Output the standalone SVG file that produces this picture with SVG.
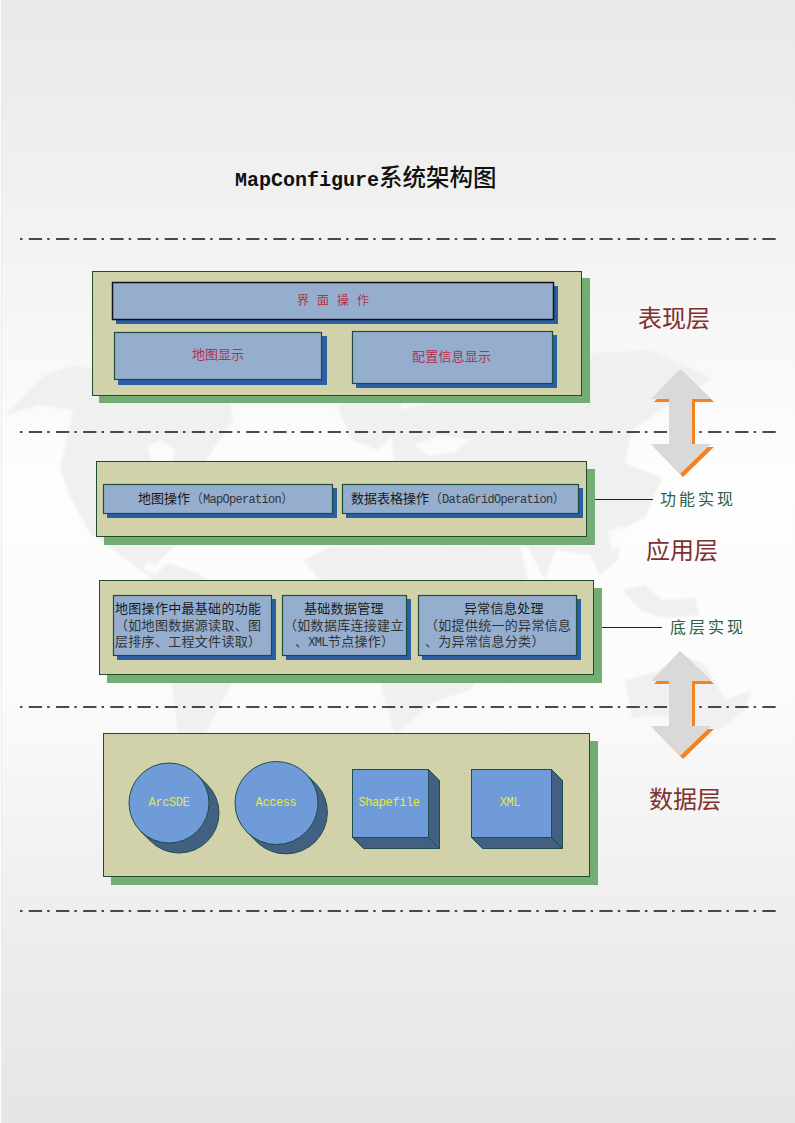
<svg xmlns="http://www.w3.org/2000/svg" width="795" height="1123" viewBox="0 0 795 1123">
<defs>
<linearGradient id="bg" x1="0" y1="0" x2="0" y2="1">
<stop offset="0" stop-color="#e9e9e9"/><stop offset=".2" stop-color="#f2f2f2"/><stop offset=".42" stop-color="#fdfdfd"/><stop offset=".6" stop-color="#fcfcfc"/><stop offset=".8" stop-color="#efefef"/><stop offset="1" stop-color="#e5e5e5"/>
</linearGradient>
<filter id="soft" x="-5%" y="-5%" width="110%" height="110%"><feGaussianBlur stdDeviation="1"/></filter>
<g id="updown">
<path class="ao" d="M683 372L714 402H695V447H714L683 477L654 447H672V402H654Z"/>
<path class="ag" d="M680 369L711 399H692V444H711L680 474L651 444H669V399H651Z"/>
</g>
</defs>
<style>
.div{fill:none;stroke:#111;stroke-width:1.5;stroke-dasharray:2.5 6.3 13.3 5.07}
.shadow{fill:#74ad74}
.panel{fill:#d2d2aa;stroke:#1e4d2b;stroke-width:1}
.bs{fill:#2a5ea5}
.box{fill:#96aece;stroke:#1e4d3b;stroke-width:1.2}
.ag{fill:#d9d9d9}.ao{fill:#f58220}
.lead{stroke:#222;stroke-width:1;fill:none}
.side{fill:#426082;stroke:#1e4d4b;stroke-width:1}
.face{fill:#6f9bd8;stroke:#1e4d4b;stroke-width:1}
.map{fill:#f0f0f0}
.sea{fill:#fbfbfb}
text{font-family:"Liberation Mono","Noto Sans CJK SC",monospace;font-size:13px}
.cn{font-family:"Noto Sans CJK SC",sans-serif}
.lat{font-size:12px;letter-spacing:-.7px;fill:#333}
.dk{fill:#1a1a1a}
.red{fill:#b5304a}
.lay{font-family:"Noto Sans CJK SC",sans-serif;font-size:24px;fill:#7f3030}
.imp{font-family:"Noto Sans CJK SC",sans-serif;font-size:16px;letter-spacing:3px;fill:#2f5f45}
.t3{letter-spacing:.3px;fill:#333}
.y{fill:#e6ea3c;font-size:12px;letter-spacing:-.4px;text-anchor:middle}
</style>
<rect width="795" height="1123" fill="url(#bg)"/>
<rect x="1" width="1" height="1123" fill="#ececec"/>
<rect width="1" height="1123" fill="#fbfbfb"/>
<g id="map" filter="url(#soft)">
<path class="map" d="M5 415L25 395L45 375L75 365L100 372L230 398L233 420L207 458L192 530L160 560L152 578L140 570L117 553L90 533L70 497L60 467L67 440L73 410L40 405Z"/>
<path class="map" d="M150 580L167 563L197 573L240 600L262 630L232 683L205 735L178 733L172 683L150 620Z"/>
<path class="map" d="M337 405L370 395L402 400L400 430L378 450L352 440Z"/>
<path class="map" d="M303 560L330 547L520 545L530 590L505 640L470 690L431 703L395 735L382 690L372 620L330 592Z"/>
<path class="map" d="M400 410L450 398L520 397L560 375L592 353L650 350L712 378L690 395L660 410L632 430L625 463L662 478L645 517L620 530L618 560L600 575L590 555L555 550L545 580L528 548L500 530L470 525L445 548L410 520L395 480L392 440Z"/>
<path class="map" d="M622 590L645 585L662 600L695 598L700 615L665 618L640 610Z"/>
<path class="map" d="M625 680L655 672L688 657L705 665L725 700L752 690L745 710L720 730L680 725L660 715L632 718Z"/>
<path class="sea" d="M147 447L160 440L175 450L172 465L152 462Z"/>
<path class="sea" d="M415 445L440 435L470 440L455 452L428 456Z"/>
<path class="sea" d="M148 562L160 566L152 574L142 568Z"/>
<path class="sea" d="M608 532L620 525L622 545L612 552Z"/>
</g>
<g id="connectors">
<path class="div" d="M20 239H776"/><path class="div" d="M20 432H776"/><path class="div" d="M20 707H776"/><path class="div" d="M20 911H776"/>
<path class="lead" d="M595 499.500H653"/><path class="lead" d="M602 627.500H662"/>
</g>
<use id="arrow-top" href="#updown"/>
<use id="arrow-bottom" href="#updown" y="282"/>
<text id="title" x="235" y="186" style="font-size:20px;font-weight:700" fill="#111"><tspan style="font-family:'Liberation Mono'">MapConfigure</tspan><tspan class="cn" style="font-size:23.5px;font-weight:500">系统架构图</tspan></text>
<g id="presentation">
<rect class="shadow" x="99" y="278" width="491" height="125"/>
<rect class="panel" x="92.500" y="271.500" width="489" height="124"/>
<g id="ui-ops"><rect class="bs" x="116" y="286" width="442" height="38"/><rect class="box" x="112.500" y="282.500" width="441" height="37" style="stroke:#111;stroke-width:1.5"/><text class="cn red" x="297" y="305" style="font-size:12px;letter-spacing:8px">界面操作</text></g>
<g id="map-display"><rect class="bs" x="118" y="336" width="209" height="49"/><rect class="box" x="114.500" y="332.500" width="207" height="47"/><text class="cn red" x="192" y="359">地图显示</text></g>
<g id="config-display"><rect class="bs" x="356" y="335" width="201" height="53"/><rect class="box" x="352.500" y="331.500" width="200" height="52"/><text class="cn red" x="412" y="361" style="letter-spacing:.2px">配置信息显示</text></g>
</g>
<g id="application">
<rect class="shadow" x="104" y="469" width="491" height="76"/>
<rect class="panel" x="96.500" y="461.500" width="490" height="75"/>
<g id="map-op"><rect class="bs" x="107" y="488" width="230" height="30"/><rect class="box" x="103.500" y="484.500" width="229" height="29"/><text x="138" y="503"><tspan class="cn dk">地图操作</tspan><tspan class="cn" fill="#444">（</tspan><tspan class="lat">MapOperation</tspan><tspan class="cn" fill="#444">）</tspan></text></g>
<g id="grid-op"><rect class="bs" x="346" y="488" width="237" height="30"/><rect class="box" x="342.500" y="484.500" width="236" height="29"/><text x="351" y="503"><tspan class="cn dk">数据表格操作</tspan><tspan class="cn" fill="#444">（</tspan><tspan class="lat">DataGridOperation</tspan><tspan class="cn" fill="#444">）</tspan></text></g>
</g>
<g id="foundation">
<rect class="shadow" x="107" y="588" width="495" height="95"/>
<rect class="panel" x="99.500" y="580.500" width="494" height="94"/>
<g id="map-basic"><rect class="bs" x="117" y="599" width="159" height="61"/><rect class="box" x="113.500" y="595.500" width="158" height="60"/>
<text class="cn dk" x="115" y="613" style="letter-spacing:.3px">地图操作中最基础的功能</text><text class="cn t3" x="115" y="630">（如地图数据源读取、图</text><text class="cn t3" x="115" y="646">层排序、工程文件读取）</text></g>
<g id="data-mgmt"><rect class="bs" x="286" y="599" width="125" height="61"/><rect class="box" x="282.500" y="595.500" width="124" height="60"/>
<text class="cn dk" x="304" y="613" style="letter-spacing:.3px">基础数据管理</text><text class="cn t3" x="284" y="630">（如数据库连接建立</text><text class="t3" x="295" y="646"><tspan class="cn">、</tspan><tspan class="lat">XML</tspan><tspan class="cn">节点操作）</tspan></text></g>
<g id="exception"><rect class="bs" x="422" y="599" width="159" height="61"/><rect class="box" x="418.500" y="595.500" width="158" height="60"/>
<text class="cn dk" x="464" y="613" style="letter-spacing:.3px">异常信息处理</text><text class="cn t3" x="425" y="630">（如提供统一的异常信息</text><text class="cn t3" x="425" y="646">、为异常信息分类）</text></g>
</g>
<g id="data">
<rect class="shadow" x="111" y="741" width="487" height="144"/>
<rect class="panel" x="103.500" y="733.500" width="486" height="143"/>
<g id="arcsde"><path class="side" d="M197.300 774.700L207.300 784.700A40 40 0 0 1 150.700 841.300L140.700 831.300Z"/><circle class="face" cx="169" cy="803" r="40"/><text class="y" x="169" y="806">ArcSDE</text></g>
<g id="access"><path class="side" d="M305.800 773.700L316.800 784.700A41.500 41.500 0 0 1 258.200 843.300L247.200 832.300Z"/><circle class="face" cx="276.500" cy="803" r="41.500"/><text class="y" x="276" y="806">Access</text></g>
<g id="shapefile"><path class="side" d="M352.500 837.500L363.500 848.500H439.500V780.500L428.500 769.500V837.500Z"/><path class="side" d="M428.500 837.500L439.500 848.500" fill="none"/><rect class="face" x="352.500" y="769.500" width="76" height="68"/><text class="y" x="389" y="806">Shapefile</text></g>
<g id="xml"><path class="side" d="M471.500 837.500L482.500 848.500H562.500V780.500L551.500 769.500V837.500Z"/><path class="side" d="M551.500 837.500L562.500 848.500" fill="none"/><rect class="face" x="471.500" y="769.500" width="80" height="68"/><text class="y" x="510" y="806">XML</text></g>
</g>
<text class="lay" x="638" y="327">表现层</text>
<text class="lay" x="646" y="559">应用层</text>
<text class="lay" x="649" y="808">数据层</text>
<text class="imp" x="660" y="505">功能实现</text>
<text class="imp" x="670" y="633">底层实现</text>
</svg>
